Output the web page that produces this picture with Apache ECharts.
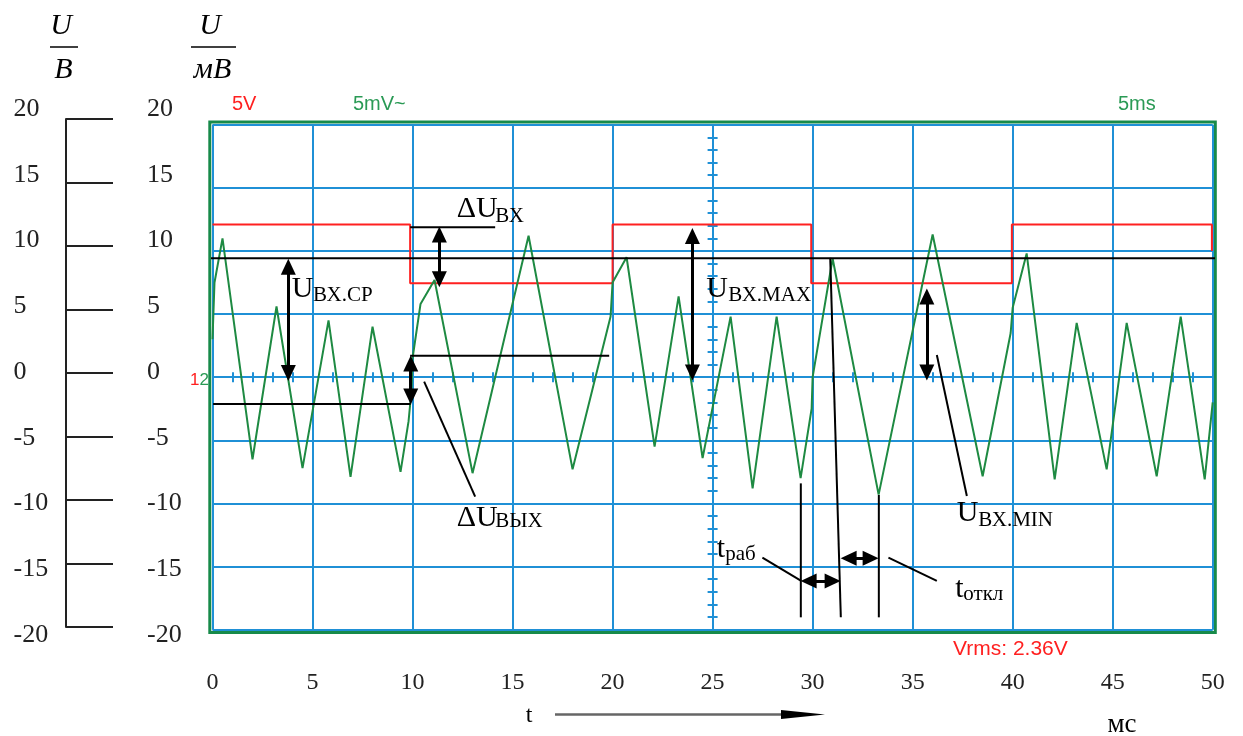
<!DOCTYPE html>
<html>
<head>
<meta charset="utf-8">
<title>Осциллограмма</title>
<script src="https://cdn.jsdelivr.net/npm/echarts@6/dist/echarts.min.js"></script>
<style>
  html, body { margin: 0; padding: 0; background: #fff; }
  #main { width: 1243px; height: 736px; }
</style>
</head>
<body>
<div id="main"></div>
<script>
// ---- data (t in ms, U in divisions of the scale) ----
var timeMin = 0, timeMax = 50, timeStep = 5;
var levelMin = -20, levelMax = 20, levelStep = 5;

// channel 1 (red, 5V/div) - input square wave
var redTrace = [
  [0, 12.1], [9.88, 12.1], [9.88, 7.45], [20.0, 7.45], [20.0, 12.1],
  [29.93, 12.1], [29.93, 7.45], [39.96, 7.45], [39.96, 12.1],
  [49.96, 12.1], [49.96, 10.0]
];

// channel 2 (green, 5mV/div) - peaks and troughs of the output
var greenTrace = [
  [0, 3.0], [0.1, 7.5], [0.5, 11.0], [2.0, -6.5], [3.2, 5.6], [4.5, -7.2],
  [5.8, 4.5], [6.9, -7.9], [8.0, 4.0], [9.4, -7.5], [9.8, -3.5], [9.95, -1.0],
  [10.0, 1.5], [10.4, 5.8], [11.1, 7.7], [13.0, -7.6], [15.8, 11.2], [18.0, -7.3],
  [19.9, 4.8], [20.0, 7.5], [20.7, 9.5], [22.1, -5.5], [23.3, 6.4], [24.5, -6.4],
  [25.9, 4.8], [27.0, -8.8], [28.2, 4.8], [29.4, -8.0], [29.95, -2.5], [30.0, 0.0],
  [31.0, 9.4], [33.3, -9.3], [36.0, 11.3], [38.5, -7.85], [39.9, 3.5], [40.0, 5.5],
  [40.7, 9.8], [42.1, -8.1], [43.2, 4.3], [44.7, -7.3], [45.7, 4.3], [47.2, -7.85],
  [48.4, 4.8], [49.6, -8.1], [50.0, -2.0]
];

// mean input level (U вх.ср)
var meanLevel = [[-0.13, 9.43], [50.73, 9.43]];

// helper lines of the drawing
var guideLines = [
  [[9.88, 11.88], [14.13, 11.88]],
  [[9.88, 1.70], [19.83, 1.70]],
  [[0.03, -2.12], [9.91, -2.12]],
  [[10.58, -0.35], [13.13, -9.46]],
  [[36.21, 1.76], [37.71, -9.41]],
  [[29.41, -8.41], [29.41, -19.02]],
  [[30.88, 9.45], [31.41, -19.02]],
  [[33.31, -9.33], [33.31, -19.02]],
  [[27.49, -14.29], [29.43, -16.14]],
  [[33.79, -14.29], [36.21, -16.14]]
];

// double arrows
var dblArrows = [
  [[3.79, 8.74], [3.79, 0.34]],
  [[11.34, 11.31], [11.34, 7.75]],
  [[9.91, 1.09], [9.91, -1.53]],
  [[23.99, 11.19], [23.99, 0.37]],
  [[35.71, 6.39], [35.71, 0.37]],
  [[29.8, -16.14], [31.0, -16.14]],
  [[31.8, -14.35], [32.9, -14.35]]
];

// annotation texts: [t, U, text]
var bigText = [
  [3.96, 7.0, 'U'], [12.21, 13.3, 'ΔU'], [24.68, 7.0, 'U'],
  [12.21, -11.15, 'ΔU'], [37.21, -10.79, 'U'], [25.21, -13.6, 't'], [37.13, -16.77, 't']
];
var subText = [
  [5.03, 6.48, 'ВХ.СР'], [14.13, 12.74, 'ВХ'], [25.78, 6.48, 'ВХ.MAX'],
  [14.13, -11.39, 'ВЫХ'], [38.28, -11.31, 'ВХ.MIN'], [25.63, -14.08, 'раб'], [37.53, -17.25, 'откл']
];

var SERIF = '"Liberation Serif", "Times New Roman", serif';
var SANS = '"Liberation Sans", Arial, sans-serif';
var BLUE = '#1f90d6';
var GREEN = '#1e8a42';
var RED = '#ff2020';

var chart = echarts.init(document.getElementById('main'));

var series = [
  {
    name: 'ch1', type: 'line', data: redTrace, symbol: 'none', z: 3,
    lineStyle: { color: RED, width: 2 }, itemStyle: { color: RED }
  },
  {
    name: 'ch2', type: 'line', data: greenTrace, symbol: 'none', z: 4,
    lineStyle: { color: GREEN, width: 2 }, itemStyle: { color: GREEN }
  },
  {
    name: 'mean', type: 'line', data: meanLevel, symbol: 'none', clip: false, z: 5,
    lineStyle: { color: '#000', width: 2 }
  }
];

guideLines.forEach(function (seg, i) {
  series.push({
    name: 'guide' + i, type: 'line', data: seg, symbol: 'none', clip: false, z: 6,
    lineStyle: { color: '#000', width: 2 }
  });
});

// arrows hang on an empty line series
series.push({
  name: 'arrows', type: 'line', data: [], z: 7,
  markLine: {
    silent: true,
    animation: false,
    symbol: ['triangle', 'triangle'],
    symbolSize: [15, 16],
    label: { show: false },
    lineStyle: { color: '#000', width: 3, type: 'solid' },
    itemStyle: { color: '#000' },
    emphasis: { disabled: true },
    data: dblArrows.map(function (a) {
      return [{ coord: a[0] }, { coord: a[1] }];
    })
  }
});

function textSeries(name, list, size) {
  return {
    name: name, type: 'scatter', symbolSize: 0, z: 8, silent: true,
    itemStyle: { opacity: 1, color: '#000' },
    data: list.map(function (d) {
      return { value: [d[0], d[1]], label: { formatter: d[2] } };
    }),
    label: {
      show: true, position: 'right', distance: 0, textBorderWidth: 0,
      fontFamily: SERIF, fontSize: size, color: '#000', opacity: 1
    }
  };
}
series.push(textSeries('bigText', bigText, 30));
series.push(textSeries('subText', subText, 21));

var tickAxis = function (grid, inside) {
  return {
    gridIndex: grid, type: 'value', min: timeMin, max: timeMax, interval: 1,
    position: 'bottom',
    axisLine: { show: false, onZero: true, onZeroAxisIndex: 0 },
    axisTick: { show: true, inside: inside, length: 5, lineStyle: { color: BLUE, width: 2 } },
    axisLabel: { show: false }, splitLine: { show: false }
  };
};
var tickAxisY = function (inside) {
  return {
    gridIndex: 0, type: 'value', min: levelMin, max: levelMax, interval: 1,
    position: 'left',
    axisLine: { show: false, onZero: true, onZeroAxisIndex: 3 },
    axisTick: { show: true, inside: inside, length: 5, lineStyle: { color: BLUE, width: 2 } },
    axisLabel: { show: false }, splitLine: { show: false }
  };
};
var labelAxisY = function (margin) {
  return {
    gridIndex: 2, type: 'value', min: levelMin, max: levelMax, interval: levelStep,
    position: 'left',
    axisLine: { show: false, onZero: false }, axisTick: { show: false },
    splitLine: { show: false },
    axisLabel: { align: 'left', margin: margin, fontFamily: SERIF, fontSize: 26, color: '#222' }
  };
};

var option = {
  animation: false,
  backgroundColor: '#fff',
  grid: [
    { left: 212.5, top: 124.7, width: 1000.2, height: 505 },
    { left: 66, top: 119, width: 47, height: 508 },
    { left: 212.5, top: 109, width: 100, height: 526 }
  ],
  xAxis: [
    {
      gridIndex: 0, type: 'value', min: timeMin, max: timeMax, interval: timeStep,
      position: 'bottom',
      axisLine: { show: false, onZero: false }, axisTick: { show: false },
      splitLine: { show: true, lineStyle: { color: BLUE, width: 2 } },
      axisLabel: { margin: 41, fontFamily: SERIF, fontSize: 24, color: '#222' }
    },
    tickAxis(0, false),
    tickAxis(0, true),
    { gridIndex: 0, type: 'value', min: -25, max: 25, show: false },
    { gridIndex: 1, type: 'value', min: 0, max: 1, show: false },
    { gridIndex: 2, type: 'value', min: 0, max: 1, show: false }
  ],
  yAxis: [
    {
      gridIndex: 0, type: 'value', min: levelMin, max: levelMax, interval: levelStep,
      position: 'left',
      axisLine: { show: false, onZero: false }, axisTick: { show: false },
      axisLabel: { show: false },
      splitLine: { show: true, lineStyle: { color: BLUE, width: 2 } }
    },
    tickAxisY(false),
    tickAxisY(true),
    {
      gridIndex: 1, type: 'value', min: levelMin, max: levelMax, interval: levelStep,
      position: 'left',
      axisLine: { show: true, onZero: false, lineStyle: { color: '#222', width: 2 } },
      axisTick: { show: true, inside: true, length: 47, lineStyle: { color: '#222', width: 2 } },
      axisLabel: { show: false }, splitLine: { show: false }
    },
    labelAxisY(199),
    labelAxisY(65.5)
  ],
  graphic: [
    // screen frame
    { type: 'rect', z: -1, shape: { x: 209.8, y: 121.9, width: 1005.5, height: 510.5 },
      style: { fill: 'none', stroke: '#178a4a', lineWidth: 3 } },
    // axis titles U/В and U/мВ
    { type: 'text', x: 61, y: 26, style: { text: 'U', font: 'italic 30px ' + SERIF, fill: '#000', align: 'center', verticalAlign: 'middle' } },
    { type: 'line', shape: { x1: 50, y1: 47, x2: 78, y2: 47 }, style: { stroke: '#000', lineWidth: 1.5 } },
    { type: 'text', x: 63.5, y: 70, style: { text: 'В', font: 'italic 30px ' + SERIF, fill: '#000', align: 'center', verticalAlign: 'middle' } },
    { type: 'text', x: 210, y: 26, style: { text: 'U', font: 'italic 30px ' + SERIF, fill: '#000', align: 'center', verticalAlign: 'middle' } },
    { type: 'line', shape: { x1: 191, y1: 47, x2: 236, y2: 47 }, style: { stroke: '#000', lineWidth: 1.5 } },
    { type: 'text', x: 212.5, y: 70, style: { text: 'мВ', font: 'italic 30px ' + SERIF, fill: '#000', align: 'center', verticalAlign: 'middle' } },
    // scope captions
    { type: 'text', x: 232, y: 104, style: { text: '5V', font: '20px ' + SANS, fill: RED, align: 'left', verticalAlign: 'middle' } },
    { type: 'text', x: 353, y: 104, style: { text: '5mV~', font: '20px ' + SANS, fill: '#2a9a55', align: 'left', verticalAlign: 'middle' } },
    { type: 'text', x: 1118, y: 104, style: { text: '5ms', font: '20px ' + SANS, fill: '#2a9a55', align: 'left', verticalAlign: 'middle' } },
    { type: 'text', x: 953, y: 649, style: { text: 'Vrms: 2.36V', font: '21px ' + SANS, fill: RED, align: 'left', verticalAlign: 'middle' } },
    { type: 'text', x: 190, y: 380, style: { text: '{r|1}{g|2}', font: '17px ' + SANS, align: 'left', verticalAlign: 'middle',
      rich: { r: { fill: RED, font: '17px ' + SANS }, g: { fill: '#2a9a55', font: '17px ' + SANS } } } },
    // time arrow
    { type: 'text', x: 529, y: 716, style: { text: 't', font: '24px ' + SERIF, fill: '#000', align: 'center', verticalAlign: 'middle' } },
    { type: 'line', shape: { x1: 555, y1: 714.5, x2: 790, y2: 714.5 }, style: { stroke: '#666', lineWidth: 2.5 } },
    { type: 'polygon', shape: { points: [[781, 710], [825, 714.5], [781, 719]] }, style: { fill: '#000' } },
    { type: 'text', x: 1122, y: 725, style: { text: 'мс', font: '27px ' + SERIF, fill: '#000', align: 'center', verticalAlign: 'middle' } }
  ],
  series: series
};

chart.setOption(option);
</script>
</body>
</html>
